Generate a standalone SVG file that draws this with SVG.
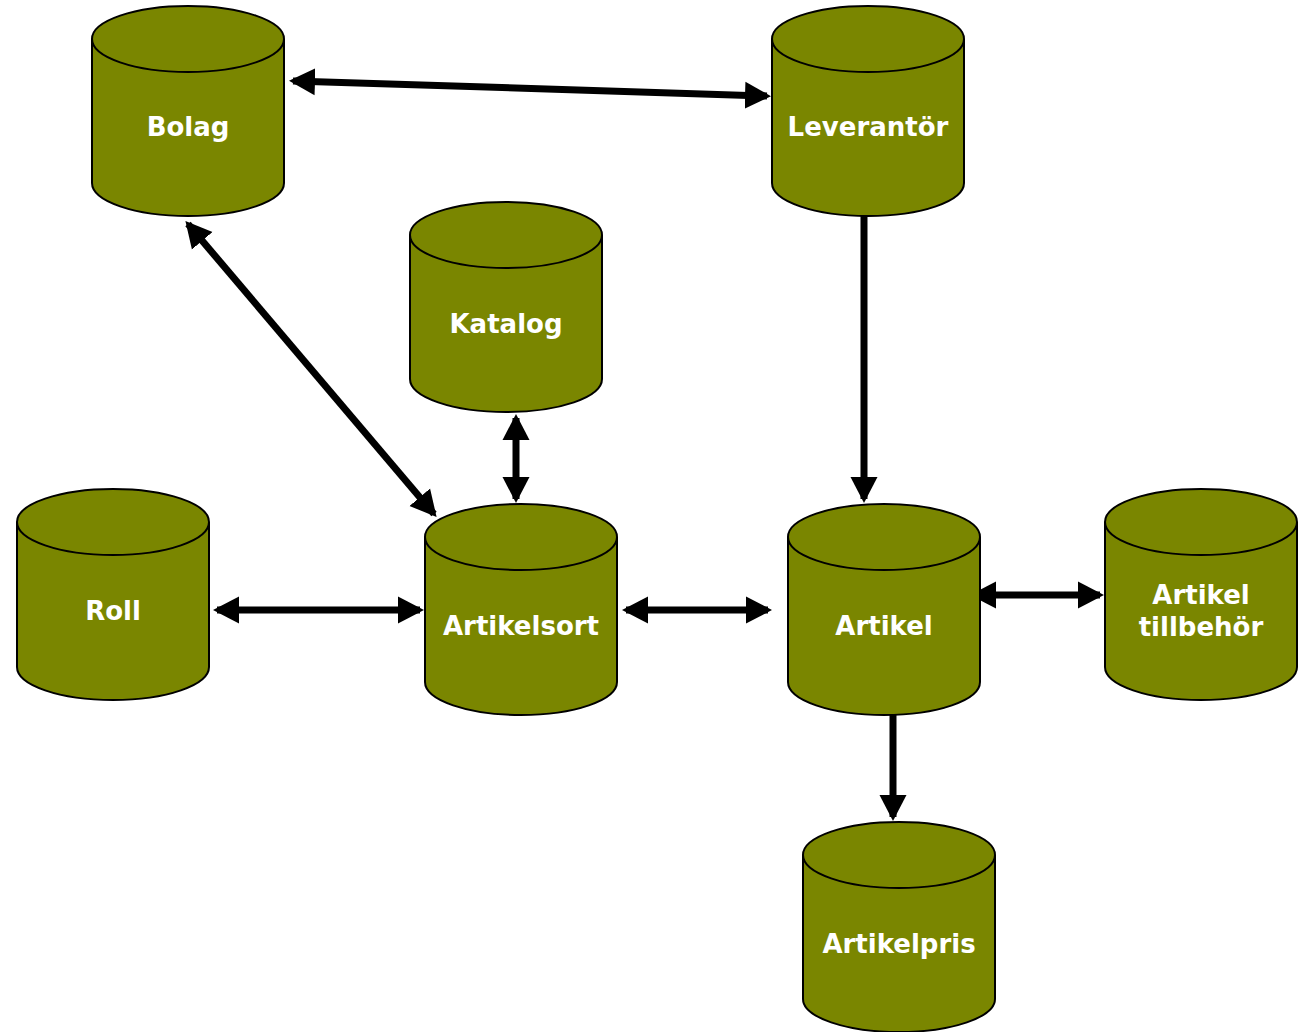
<svg xmlns="http://www.w3.org/2000/svg" width="1298" height="1032" viewBox="0 0 1298 1032">
<defs>
<style>
.cyl{fill:#7A8600;stroke:#000;stroke-width:2}
.lbl{font-family:"DejaVu Sans",Verdana,sans-serif;font-weight:bold;font-size:26px;fill:#fff;text-anchor:middle}
.con{stroke:#000;stroke-width:7;fill:none}
</style>
<marker id="ah" markerUnits="userSpaceOnUse" markerWidth="28" markerHeight="28" refX="22" refY="14" orient="auto-start-reverse" viewBox="0 0 28 28">
<path d="M0,0.5 L26,14 L0,27.5 z" fill="#000"/>
</marker>
</defs>
<rect width="1298" height="1032" fill="#fff"/>
<g id="connectors">
<line class="con" x1="293" y1="81" x2="767" y2="96" marker-start="url(#ah)" marker-end="url(#ah)"/>
<line class="con" x1="188" y1="224" x2="434" y2="514" marker-start="url(#ah)" marker-end="url(#ah)"/>
<line class="con" x1="516" y1="418" x2="516" y2="499" marker-start="url(#ah)" marker-end="url(#ah)"/>
<line class="con" x1="864" y1="216" x2="864" y2="499" marker-end="url(#ah)"/>
<line class="con" x1="217" y1="610" x2="420" y2="610" marker-start="url(#ah)" marker-end="url(#ah)"/>
<line class="con" x1="626" y1="610" x2="768" y2="610" marker-start="url(#ah)" marker-end="url(#ah)"/>
<line class="con" x1="974" y1="595" x2="1100" y2="595" marker-start="url(#ah)" marker-end="url(#ah)"/>
<line class="con" x1="893" y1="715" x2="893" y2="817" marker-end="url(#ah)"/>
</g>
<g id="bolag">
<path class="cyl" d="M92,39 A96,33 0 0 1 284,39 L284,183 A96,33 0 0 1 92,183 Z"/>
<path class="cyl" d="M92,39 A96,33 0 0 0 284,39"/>
<text class="lbl" x="188" y="136">Bolag</text>
</g>
<g id="leverantor">
<path class="cyl" d="M772,39 A96,33 0 0 1 964,39 L964,183 A96,33 0 0 1 772,183 Z"/>
<path class="cyl" d="M772,39 A96,33 0 0 0 964,39"/>
<text class="lbl" x="868" y="136">Leverantör</text>
</g>
<g id="katalog">
<path class="cyl" d="M410,235 A96,33 0 0 1 602,235 L602,379 A96,33 0 0 1 410,379 Z"/>
<path class="cyl" d="M410,235 A96,33 0 0 0 602,235"/>
<text class="lbl" x="506" y="333">Katalog</text>
</g>
<g id="roll">
<path class="cyl" d="M17,522 A96,33 0 0 1 209,522 L209,667 A96,33 0 0 1 17,667 Z"/>
<path class="cyl" d="M17,522 A96,33 0 0 0 209,522"/>
<text class="lbl" x="113" y="620">Roll</text>
</g>
<g id="artikelsort">
<path class="cyl" d="M425,537 A96,33 0 0 1 617,537 L617,682 A96,33 0 0 1 425,682 Z"/>
<path class="cyl" d="M425,537 A96,33 0 0 0 617,537"/>
<text class="lbl" x="521" y="635">Artikelsort</text>
</g>
<g id="artikel">
<path class="cyl" d="M788,537 A96,33 0 0 1 980,537 L980,682 A96,33 0 0 1 788,682 Z"/>
<path class="cyl" d="M788,537 A96,33 0 0 0 980,537"/>
<text class="lbl" x="884" y="635">Artikel</text>
</g>
<g id="artikel-tillbehor">
<path class="cyl" d="M1105,522 A96,33 0 0 1 1297,522 L1297,667 A96,33 0 0 1 1105,667 Z"/>
<path class="cyl" d="M1105,522 A96,33 0 0 0 1297,522"/>
<text class="lbl" x="1201" y="604">Artikel</text>
<text class="lbl" x="1201" y="636">tillbehör</text>
</g>
<g id="artikelpris">
<path class="cyl" d="M803,855 A96,33 0 0 1 995,855 L995,999 A96,33 0 0 1 803,999 Z"/>
<path class="cyl" d="M803,855 A96,33 0 0 0 995,855"/>
<text class="lbl" x="899" y="953">Artikelpris</text>
</g>
</svg>
